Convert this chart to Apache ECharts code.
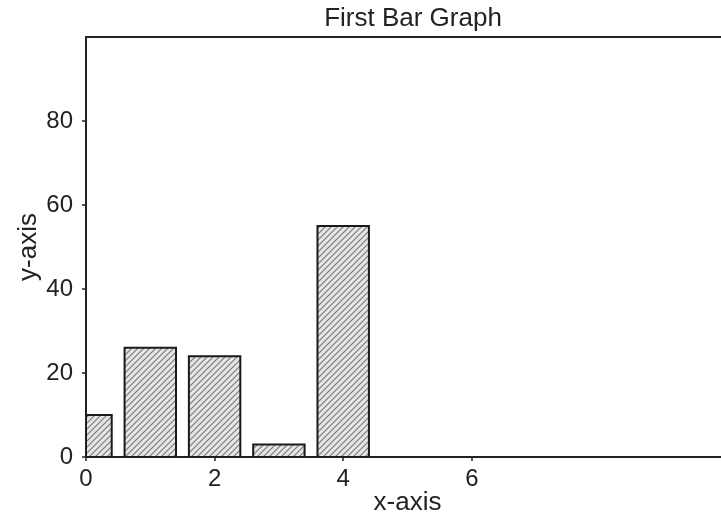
<!DOCTYPE html>
<html>
<head>
<meta charset="utf-8">
<script src="https://cdn.jsdelivr.net/npm/echarts@6/dist/echarts.min.js"></script>
<style>html,body{margin:0;padding:0;background:#fff}#c{width:721px;height:513px}</style>
</head>
<body>
<div id="c"></div>
<script>
const titleText = 'First Bar Graph';
const xName = 'x-axis';
const yName = 'y-axis';
const xValues = [0, 1, 2, 3, 4];
const yValues = [10, 26, 24, 3, 55];
const xTickLabels = [0, 2, 4, 6];
const yTickLabels = [0, 20, 40, 60, 80];

const barHalfWidth = 0.4;

function hatch() {
  const s = 6;
  const c = document.createElement('canvas');
  c.width = s; c.height = s;
  const g = c.getContext('2d');
  g.fillStyle = '#e6e6e6';
  g.fillRect(0, 0, s, s);
  g.strokeStyle = '#777';
  g.lineWidth = 1.1;
  g.beginPath();
  g.moveTo(0, s); g.lineTo(s, 0);
  g.moveTo(-s / 2, s / 2); g.lineTo(s / 2, -s / 2);
  g.moveTo(s / 2, s * 1.5); g.lineTo(s * 1.5, s / 2);
  g.stroke();
  return c;
}
const pattern = { image: hatch(), repeat: 'repeat' };

const font = 'Liberation Sans, Arial, Helvetica, sans-serif';
const chart = echarts.init(document.getElementById('c'));
chart.setOption({
  backgroundColor: '#fff',
  animation: false,
  title: {
    text: titleText,
    left: 408,
    textAlign: 'center',
    top: 1,
    textStyle: { fontFamily: font, fontWeight: 'normal', fontSize: 26, color: '#222' }
  },
  grid: {
    left: 86, top: 37, width: 643, bottom: 56,
    outerBoundsMode: 'none', containLabel: false,
    show: false
  },
  xAxis: [{
    type: 'value', min: 0, max: 10, interval: 2,
    name: xName, nameLocation: 'middle', nameGap: 33, nameMoveOverlap: false,
    nameTextStyle: { fontFamily: font, fontSize: 26, color: '#222' },
    axisLine: { show: true, onZero: false, lineStyle: { color: '#222', width: 2 } },
    axisTick: { show: true, length: 4, lineStyle: { color: '#222', width: 1.5 }, customValues: xTickLabels },
    axisLabel: { fontFamily: font, fontSize: 24, color: '#222', margin: 10, customValues: xTickLabels },
    splitLine: { show: false }
  }, {
    type: 'value', min: 0, max: 10, position: 'top',
    axisLine: { show: true, onZero: false, lineStyle: { color: '#222', width: 2 } },
    axisTick: { show: false },
    axisLabel: { show: false },
    splitLine: { show: false }
  }],
  yAxis: {
    type: 'value', min: 0, max: 100, interval: 20,
    name: yName, nameLocation: 'middle', nameGap: 44, nameMoveOverlap: false,
    nameTextStyle: { fontFamily: font, fontSize: 26, color: '#222' },
    axisLine: { show: true, onZero: false, lineStyle: { color: '#222', width: 2 } },
    axisTick: { show: true, length: 4, lineStyle: { color: '#222', width: 1.5 }, customValues: yTickLabels },
    axisLabel: { fontFamily: font, fontSize: 24, color: '#222', margin: 13, customValues: yTickLabels },
    splitLine: { show: false }
  },
  series: [{
    type: 'custom',
    xAxisIndex: 0,
    data: xValues.map((x, i) => [x, yValues[i]]),
    encode: { x: 0, y: 1 },
    clip: true,
    renderItem: function (params, api) {
      const x = api.value(0), y = api.value(1);
      const p0 = api.coord([x - barHalfWidth, y]);
      const p1 = api.coord([x + barHalfWidth, 0]);
      const cs = params.coordSys;
      const rect = echarts.graphic.clipRectByRect(
        { x: p0[0], y: p0[1], width: p1[0] - p0[0], height: p1[1] - p0[1] },
        { x: cs.x, y: cs.y, width: cs.width, height: cs.height }
      );
      if (!rect) return;
      return {
        type: 'rect',
        shape: rect,
        style: { fill: pattern, stroke: '#1a1a1a', lineWidth: 2 }
      };
    }
  }]
});
</script>
</body>
</html>
